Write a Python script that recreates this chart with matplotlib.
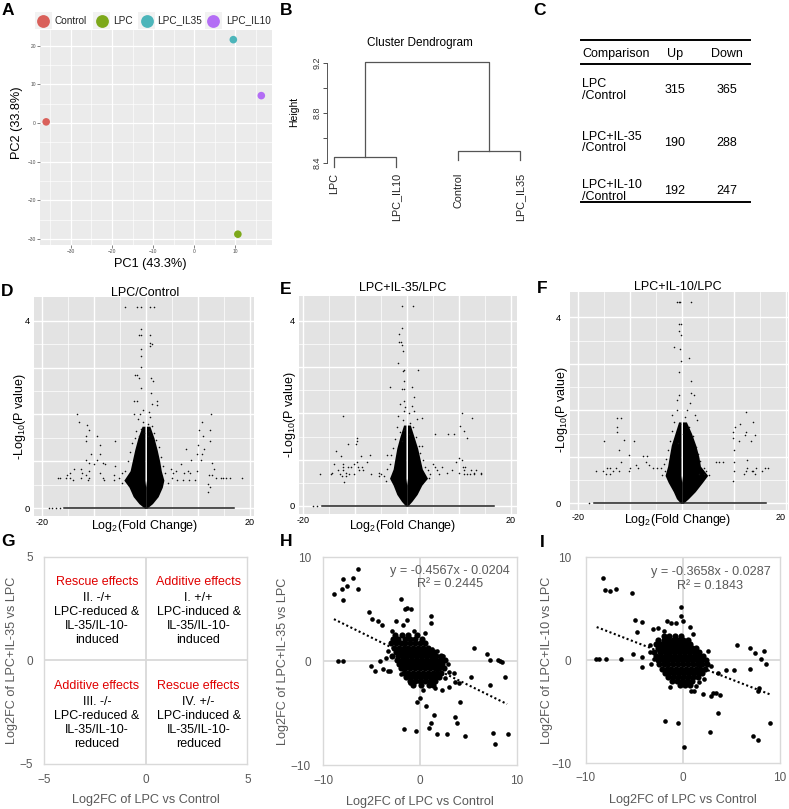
import matplotlib
matplotlib.use('Agg')
import matplotlib.pyplot as plt
from matplotlib.patches import Rectangle

plt.rcParams['font.family'] = ['Liberation Sans', 'DejaVu Sans']
plt.rcParams['mathtext.default'] = 'regular'

# ---------------- data ----------------
# A: PCA
pca_groups = ['Control', 'LPC', 'LPC_IL35', 'LPC_IL10']
pca_pc1 = [-36.0, 10.6, 9.5, 16.3]
pca_pc2 = [0.3, -28.8, 21.6, 7.1]
pca_colors = ['#D9605A', '#7DA81A', '#4CB5BA', '#B36DF5']

# B: dendrogram
dend_leaves = ['LPC', 'LPC_IL10', 'Control', 'LPC_IL35']
dend_merge = [8.443, 8.496, 9.21]
dend_leaf_bottom = [8.366, 8.366, 8.419, 8.419]

# C: DEG table
cmp_names = ['LPC\n/Control', 'LPC+IL-35\n/Control', 'LPC+IL-10\n/Control']
cmp_up = [315, 190, 192]
cmp_down = [365, 288, 247]

# D/E/F volcano plots: dense core outline + scattered genes
core_y = [0.0, 0.1, 0.25, 0.45, 0.6, 0.8, 1.0, 1.25, 1.5, 1.75]
core_gap = [0.0, 0.0, 0.0, 0.0, 0.15, 0.15, 0.15, 0.15, 0.15, 0.15]
d_core_l = [-0.2, -1.3, -2.4, -3.2, -4.2, -3.0, -2.6, -2.1, -1.5, -0.7]
d_core_r = [0.2, 1.3, 2.4, 3.2, 3.5, 3.0, 2.7, 2.2, 1.6, 0.8]
d_pts = [(-4.0, 4.30), (-1.6, 4.30), (-0.97, 4.30), (0.83, 4.30), (1.6, 4.30),
         (-0.97, 3.83), (-1.22, 3.70), (-0.85, 3.70), (0.83, 3.70), (0.83, 3.53),
         (1.28, 3.50), (0.83, 3.46), (-0.97, 3.39), (-0.97, 3.25), (-0.97, 3.01),
         (-2.12, 2.85), (-1.6, 2.85), (-1.29, 2.78), (0.96, 2.78), (1.34, 2.71),
         (-0.85, 2.57), (1.09, 2.46), (-2.24, 2.29), (-1.6, 2.29), (2.12, 2.29),
         (1.28, 2.22), (2.1, 2.2), (-0.6, 2.1), (-1.1, 2.0), (0.6, 2.05), (0.9, 1.95),
         (-1.4, 1.9), (-0.5, 1.85), (0.4, 1.8), (1.2, 1.75), (-0.9, 1.7), (-1.8, 1.65),
         (0.7, 1.65), (1.6, 1.6), (-0.4, 1.6), (-1.2, 1.55), (0.5, 1.55), (-2.0, 1.5),
         (1.9, 1.45), (-2.6, 1.4), (2.5, 1.3), (-3.0, 1.2), (2.9, 1.1), (-3.4, 1.0),
         (3.3, 0.9), (-3.9, 0.8), (3.8, 0.75), (4.3, 0.55), (-4.6, 0.55), (-2.3, 2.0),
         (-13.3, 2.02), (12.5, 2.02), (-12.8, 1.84), (10.9, 1.84), (-11.35, 1.77),
         (-10.9, 1.67), (12.3, 1.67), (10.3, 1.67), (-11.5, 1.54), (-9.3, 1.54),
         (11.1, 1.54), (-11.4, 1.44), (-5.97, 1.44), (12.4, 1.44), (-8.7, 1.36),
         (10.1, 1.36), (7.7, 1.27), (11.2, 1.27), (-10.6, 1.15), (-8.8, 1.15),
         (9.9, 1.15), (10.9, 1.15), (-11.5, 1.04), (-9.4, 1.04), (8.8, 1.04),
         (10.6, 1.04), (-10.9, 0.97), (-8.3, 0.97), (12.7, 0.97), (-9.9, 0.94),
         (-7.8, 0.94), (6.7, 0.94), (-5.97, 0.90), (-13.7, 0.83), (-12.5, 0.83),
         (4.8, 0.83), (13.1, 0.83), (-10.9, 0.79), (5.76, 0.79), (8.2, 0.79),
         (9.8, 0.79), (-14.6, 0.76), (-12.2, 0.76), (-8.7, 0.76), (-4.5, 0.76),
         (5.3, 0.76), (7.4, 0.76), (8.6, 0.76), (-15.1, 0.72), (-11.5, 0.72),
         (-6.1, 0.72), (12.2, 0.72), (12.8, 0.72), (-16.9, 0.65), (-16.4, 0.65),
         (-15.4, 0.65), (-14.6, 0.65), (-12.5, 0.65), (-10.9, 0.65), (-8.3, 0.65),
         (-5.1, 0.65), (5.1, 0.65), (13.5, 0.65), (14.4, 0.65), (14.9, 0.65),
         (15.4, 0.65), (16.3, 0.65), (18.6, 0.65), (12.0, 0.51), (12.3, 0.45),
         (12.0, 0.35), (-14.0, 0.61), (-11.0, 0.61), (-8.0, 0.6), (-6.0, 0.6),
         (6.0, 0.6), (7.2, 0.6), (8.4, 0.6), (9.5, 0.6)]
d_base = [-15.7, 17.0]
d_base_pts = [-18.6, -18.0, -17.3, -16.5]

e_core_l = [-0.2, -1.0, -1.9, -2.6, -3.3, -2.6, -2.3, -1.9, -1.3, -0.6]
e_core_r = [0.2, 1.0, 2.0, 2.9, 4.0, 3.0, 2.6, 2.1, 1.4, 0.7]
e_pts = [(-0.9, 4.33), (1.15, 4.33), (-0.97, 3.84), (-1.48, 3.71), (-1.48, 3.54),
         (-1.03, 3.54), (-0.84, 3.47), (-0.7, 3.36), (-1.6, 3.09), (2.18, 2.95),
         (-0.58, 2.95), (-0.7, 2.91), (-0.58, 2.70), (-3.2, 2.57), (0.96, 2.57),
         (-0.9, 2.53), (-0.58, 2.53), (1.35, 2.36), (-0.58, 2.28), (1.0, 2.16),
         (-0.58, 2.06), (1.45, 2.06), (10.55, 2.01), (-12.2, 1.94), (12.5, 1.91),
         (2.97, 1.91), (2.0, 1.89), (10.3, 1.73), (11.05, 1.63), (5.53, 1.55),
         (7.97, 1.55), (9.06, 1.55), (11.6, 1.47), (-9.6, 1.47), (-9.6, 1.40),
         (-11.3, 1.33), (-9.8, 1.33), (2.97, 1.30), (-13.5, 1.18), (-7.1, 1.11),
         (-3.85, 1.11), (-12.6, 1.08), (-8.8, 1.08), (10.0, 1.04), (10.6, 1.0),
         (-9.6, 0.96), (-7.7, 0.96), (9.4, 0.96), (-13.9, 0.91), (-12.2, 0.91),
         (-10.2, 0.91), (5.0, 0.91), (-12.2, 0.85), (-11.2, 0.85), (-10.8, 0.85),
         (-9.4, 0.85), (-8.6, 0.85), (5.4, 0.85), (6.8, 0.85), (10.8, 0.85),
         (11.2, 0.85), (-13.2, 0.78), (-12.3, 0.78), (-9.2, 0.78), (-8.4, 0.78),
         (4.0, 0.78), (5.9, 0.78), (8.8, 0.78), (11.0, 0.78), (12.3, 0.78),
         (13.3, 0.78), (-14.4, 0.72), (-11.6, 0.72), (-5.4, 0.72), (7.7, 0.72),
         (10.0, 0.72), (13.0, 0.72), (14.2, 0.72), (-16.6, 0.69), (-14.6, 0.69),
         (-12.9, 0.69), (-11.0, 0.69), (-10.2, 0.69), (-6.8, 0.69), (-4.9, 0.69),
         (4.5, 0.69), (6.2, 0.69), (11.0, 0.69), (11.6, 0.69), (12.1, 0.69),
         (13.0, 0.69), (14.3, 0.69), (-12.5, 0.65), (-11.6, 0.65), (-5.3, 0.65),
         (-4.3, 0.65), (-12.0, 0.51), (-1.2, 2.2), (-0.4, 2.15), (0.5, 2.0),
         (-1.6, 1.95), (-0.8, 1.85), (0.7, 1.8), (-1.9, 1.7), (1.3, 1.7),
         (-0.5, 1.65), (-1.3, 1.6), (0.4, 1.55), (1.8, 1.5), (-2.2, 1.45),
         (-0.9, 1.4), (2.3, 1.3), (-2.6, 1.25), (2.6, 1.15), (-3.0, 1.1),
         (3.2, 1.0), (-3.3, 0.9), (3.6, 0.85), (-3.7, 0.8), (4.3, 0.6), (-4.0, 0.55)]
e_base = [-16.3, 16.8]
e_base_pts = [-18.1, -17.2]

f_core_l = [-0.2, -1.0, -1.6, -2.6, -3.2, -2.7, -2.4, -2.0, -1.3, -0.6]
f_core_r = [0.3, 1.3, 2.6, 4.0, 5.0, 3.6, 3.3, 2.7, 1.9, 0.9]
f_pts = [(-0.83, 4.32), (-0.6, 4.32), (-0.4, 4.32), (1.7, 4.32), (-0.5, 3.85),
         (-0.19, 3.85), (-0.51, 3.70), (-0.19, 3.62), (-1.47, 3.37), (-0.38, 3.32),
         (1.4, 3.12), (-0.19, 3.05), (-0.45, 2.83), (1.86, 2.62), (1.86, 2.37),
         (-0.6, 2.33), (2.31, 2.33), (-0.83, 2.22), (1.5, 2.15), (1.0, 2.01),
         (12.4, 1.96), (-1.8, 1.90), (2.6, 1.90), (-12.4, 1.84), (-11.7, 1.84),
         (2.9, 1.79), (13.8, 1.74), (11.2, 1.70), (-12.4, 1.65), (10.3, 1.65),
         (-12.4, 1.53), (12.4, 1.53), (9.8, 1.53), (12.1, 1.47), (14.1, 1.47),
         (9.9, 1.41), (-11.1, 1.37), (-15.0, 1.33), (-9.2, 1.33), (11.1, 1.33),
         (13.4, 1.33), (-12.0, 1.15), (10.0, 1.15), (-10.1, 1.04), (-7.4, 1.01),
         (-6.6, 1.01), (12.6, 0.94), (-11.6, 0.89), (-6.9, 0.89), (6.5, 0.89),
         (7.2, 0.89), (7.9, 0.89), (10.0, 0.89), (-8.7, 0.83), (-6.3, 0.83),
         (-14.3, 0.76), (-13.8, 0.76), (-12.6, 0.76), (-10.0, 0.76), (-8.4, 0.76),
         (-5.5, 0.76), (-4.8, 0.76), (-3.9, 0.76), (12.6, 0.76), (14.2, 0.76),
         (16.0, 0.76), (16.5, 0.76), (-16.5, 0.69), (-15.2, 0.69), (-13.2, 0.69),
         (-12.0, 0.69), (-10.2, 0.69), (-3.2, 0.69), (4.6, 0.69), (10.0, 0.69),
         (12.3, 0.69), (13.5, 0.69), (13.8, 0.69), (15.4, 0.69), (-14.6, 0.62),
         (-13.7, 0.62), (3.3, 0.62), (4.3, 0.62), (11.9, 0.62), (14.0, 0.62),
         (9.8, 0.48), (-1.0, 2.0), (0.6, 1.85), (-1.4, 1.75), (-0.4, 1.7),
         (1.4, 1.65), (-1.8, 1.55), (0.3, 1.5), (2.2, 1.45), (-2.3, 1.35),
         (-0.8, 1.3), (2.7, 1.2), (-2.7, 1.15), (3.2, 1.05), (-3.0, 0.95),
         (3.6, 0.9), (-3.4, 0.85), (4.2, 0.75), (5.2, 0.6), (-3.8, 0.6)]
f_base = [-16.8, 16.3]
f_base_pts = [-17.8]

# G: quadrant scheme
quad_x = [-2.4, 2.6, -2.4, 2.6]
quad_title_y = [3.79, 3.79, -1.23, -1.23]
quad_body_y = [2.01, 2.01, -3.03, -3.03]
quad_titles = ['Rescue effects', 'Additive effects', 'Additive effects', 'Rescue effects']
quad_bodies = ['II. -/+\nLPC-reduced &\nIL-35/IL-10-\ninduced',
               'I. +/+\nLPC-induced &\nIL-35/IL-10-\ninduced',
               'III. -/-\nLPC-reduced &\nIL-35/IL-10-\nreduced',
               'IV. +/-\nLPC-induced &\nIL-35/IL-10-\nreduced']

# H: LPC vs Control (x) against LPC+IL-35 vs LPC (y)
h_fit = [-0.4567, -0.0204]
h_fit_x = [-8.9, 9.0]
h_pts = [(-6.45, 8.91), (-7.93, 7.88), (-6.93, 8.01), (-7.59, 7.24), (-8.10, 6.95),
         (-6.45, 6.95), (-8.93, 6.47), (-7.93, 5.86), (-2.0, 6.02), (-1.55, 5.0),
         (-1.31, 5.09), (-0.93, 5.0), (-5.28, 4.77), (-4.93, 4.03), (-4.31, 3.87),
         (-3.97, 3.48), (-2.48, 3.87), (-1.79, 3.48), (-1.38, 3.93), (1.17, 4.32),
         (1.17, 3.68), (-8.45, 0.02), (-7.93, 0.02), (-5.10, -0.47), (-4.14, 0.02),
         (-4.62, -0.91), (-3.86, -0.75), (-3.28, -0.91), (-3.1, -0.91), (5.59, 1.24),
         (6.90, 0.66), (7.24, 0.12), (8.03, 0.08), (8.31, 0.02), (8.48, -0.04),
         (8.79, -1.56), (7.24, -2.30), (5.31, -1.56), (3.55, -1.11), (3.62, -1.98),
         (4.03, -2.14), (2.59, -1.65), (2.97, -2.45), (2.28, -2.81), (4.10, -3.96),
         (3.59, -5.38), (3.79, -5.92), (1.48, -5.22), (1.10, -5.99), (0.97, -6.47),
         (1.79, -7.05), (2.79, -7.05), (4.62, -7.21), (7.59, -6.89), (7.76, -7.98),
         (9.10, -7.05), (-1.62, -6.57), (-0.45, -6.73), (-0.34, -3.96), (0.0, -3.52),
         (0.62, -4.29), (-1.03, -2.14), (-2.0, -1.27), (-3.3, 1.0), (-2.9, 2.9),
         (0.5, 2.7), (1.2, 1.2), (1.8, 1.0), (2.9, -0.3), (3.0, -1.0), (-3.5, 0.3),
         (0.3, -2.8), (1.6, -2.6), (-0.6, 2.9), (2.4, 0.5)]
h_core_y = [2.5, 2.1, 1.7, 1.3, 0.9, 0.5, 0.1, -0.3, -0.7, -1.1, -1.5, -1.9, -2.3]
h_core_x = [[-2.6, -1.9, -1.2, -0.3],
            [-2.8, -2.3, -1.6, -1.0, -0.5, 0.2],
            [-3.0, -2.5, -2.0, -1.5, -1.0, -0.5, 0.0, 0.5],
            [-2.7, -2.2, -1.7, -1.2, -0.7, -0.2, 0.3, 0.8],
            [-2.5, -2.0, -1.5, -1.0, -0.5, 0.0, 0.5, 1.0, 1.4],
            [-2.9, -2.3, -1.8, -1.3, -0.8, -0.3, 0.2, 0.7, 1.2, 1.7, 2.2],
            [-2.4, -1.9, -1.4, -0.9, -0.4, 0.1, 0.6, 1.1, 1.6, 2.1, 2.6],
            [-2.2, -1.7, -1.2, -0.7, -0.2, 0.3, 0.8, 1.3, 1.8, 2.3],
            [-2.0, -1.5, -1.0, -0.5, 0.0, 0.5, 1.0, 1.5, 2.0, 2.5],
            [-1.7, -1.2, -0.7, -0.2, 0.3, 0.8, 1.3, 1.8, 2.2],
            [-1.4, -0.9, -0.4, 0.1, 0.6, 1.1, 1.6, 2.0],
            [-1.0, -0.5, 0.0, 0.5, 1.0, 1.5],
            [-0.7, 0.1, 0.9, 1.3]]

# I: LPC vs Control (x) against LPC+IL-10 vs LPC (y)
i_fit = [-0.3658, -0.0287]
i_fit_x = [-8.9, 9.1]
i_pts = [(-8.25, 8.03), (-8.08, 6.83), (-7.56, 6.76), (-6.94, 6.93), (-5.29, 6.50),
         (-0.21, 5.21), (-0.21, 4.30), (-4.95, 3.88), (-4.26, 3.69), (-4.78, 2.75),
         (-3.09, 3.07), (-2.54, 3.14), (-1.62, 3.82), (-1.20, 3.66), (-0.76, 3.59),
         (0.72, 3.24), (0.0, 3.82), (-8.93, 0.13), (-8.66, 0.13), (-7.90, 0.13),
         (-6.43, 0.13), (-5.12, 0.61), (-4.19, 0.32), (-4.19, -0.65), (-3.44, 0.84),
         (-3.0, 0.13), (5.57, 1.52), (6.87, 1.20), (7.39, 0.74), (8.40, 0.87),
         (8.04, 0.10), (8.52, -0.36), (6.94, -0.84), (5.26, -0.91), (4.47, -0.97),
         (3.57, -1.26), (2.17, -1.81), (1.68, -2.07), (1.38, -2.46), (1.10, -2.98),
         (2.06, -3.30), (2.92, -3.43), (3.13, -3.20), (3.40, -3.17), (3.81, -3.37),
         (3.57, -5.15), (2.78, -6.96), (7.84, -2.72), (7.70, -2.94), (8.97, -6.05),
         (7.18, -7.31), (7.70, -7.77), (-1.82, -5.86), (-0.52, -6.05), (0.10, -8.41),
         (0.17, -2.17), (-0.34, -2.43), (-3.4, 1.5), (-2.0, 2.8), (1.0, 2.6),
         (2.6, 0.9), (2.9, -0.6), (-3.3, -0.4), (-1.3, -2.6), (0.8, -3.0)]
i_core_y = [2.4, 2.0, 1.6, 1.2, 0.8, 0.4, 0.0, -0.4, -0.8, -1.2, -1.6, -2.0, -2.4]
i_core_x = [[-2.0, -1.4, -0.8, -0.2],
            [-2.6, -2.0, -1.5, -1.0, -0.5, 0.0, 0.5],
            [-2.8, -2.3, -1.8, -1.3, -0.8, -0.3, 0.2, 0.7],
            [-2.6, -2.1, -1.6, -1.1, -0.6, -0.1, 0.4, 0.9, 1.3],
            [-3.0, -2.4, -1.9, -1.4, -0.9, -0.4, 0.1, 0.6, 1.1, 1.6],
            [-2.8, -2.3, -1.8, -1.3, -0.8, -0.3, 0.2, 0.7, 1.2, 1.7, 2.1],
            [-2.6, -2.1, -1.6, -1.1, -0.6, -0.1, 0.4, 0.9, 1.4, 1.9, 2.4],
            [-2.5, -2.0, -1.5, -1.0, -0.5, 0.0, 0.5, 1.0, 1.5, 2.0, 2.5],
            [-2.2, -1.7, -1.2, -0.7, -0.2, 0.3, 0.8, 1.3, 1.8, 2.3],
            [-1.9, -1.4, -0.9, -0.4, 0.1, 0.6, 1.1, 1.6, 2.0],
            [-1.5, -1.0, -0.5, 0.0, 0.5, 1.0, 1.5],
            [-1.1, -0.6, -0.1, 0.4, 0.9],
            [-0.3, 0.2, 0.7]]

# ---------------- figure ----------------
W, H = 789, 809
fig = plt.figure(figsize=(W / 100, H / 100), dpi=100)


def box(l, t, r, b):
    return fig.add_axes([l / W, 1 - b / H, (r - l) / W, (b - t) / H])


# A: PCA
axA = box(40, 30, 272, 245)
axA.set_facecolor('#EBEBEB')
axA.scatter(pca_pc1, pca_pc2, s=30, c=pca_colors, linewidths=0, zorder=3)
axA.set_xlim(-37.5, 18.9)
axA.set_ylim(-31.6, 24.1)
axA.set_xticks(range(-30, 11, 10))
axA.set_yticks(range(-30, 21, 10))
axA.set_xticks([-35, -25, -15, -5, 5, 15], minor=True)
axA.set_yticks([-25, -15, -5, 5, 15], minor=True)
axA.grid(which='major', color='white', lw=0.9)
axA.grid(which='minor', color='white', lw=0.45)
axA.set_axisbelow(True)
for s in axA.spines.values():
    s.set_visible(False)
axA.tick_params(labelsize=3.5, colors='#4D4D4D', length=2, width=0.5, pad=1)
axA.tick_params(which='minor', length=0)

# B: dendrogram
axB = box(326.7, 55, 540, 170)
leaf_pos = [1, 2, 3, 4]
axB.plot([leaf_pos[0], leaf_pos[0], leaf_pos[1], leaf_pos[1]],
         [dend_leaf_bottom[0], dend_merge[0], dend_merge[0], dend_leaf_bottom[1]],
         color='#555555', lw=0.9)
axB.plot([leaf_pos[2], leaf_pos[2], leaf_pos[3], leaf_pos[3]],
         [dend_leaf_bottom[2], dend_merge[1], dend_merge[1], dend_leaf_bottom[3]],
         color='#555555', lw=0.9)
mid_l = (leaf_pos[0] + leaf_pos[1]) / 2
mid_r = (leaf_pos[2] + leaf_pos[3]) / 2
axB.plot([mid_l, mid_l, mid_r, mid_r],
         [dend_merge[0], dend_merge[2], dend_merge[2], dend_merge[1]],
         color='#555555', lw=0.9)
axB.set_xlim(0.882, 4.32)
axB.set_ylim(8.342, 9.262)
for k in ['top', 'right', 'bottom']:
    axB.spines[k].set_visible(False)
axB.spines['left'].set_bounds(8.4, 9.2)
axB.spines['left'].set_color('#555555')
axB.spines['left'].set_linewidth(0.7)
axB.set_xticks([])
axB.set_yticks([8.4, 8.6, 8.8, 9.0, 9.2])
axB.set_yticklabels(['8.4', '', '8.8', '', '9.2'], rotation=90, va='center')
axB.tick_params(axis='y', labelsize=6.5, length=3, width=0.6, colors='#333333', pad=1)
axB.patch.set_alpha(0)
for p, name in zip(leaf_pos, dend_leaves):
    axB.text(p, 8.318, name, rotation=90, ha='center', va='top', fontsize=7.8,
             color='#222222')


# D/E/F volcano plots
def volcano(bx, xlim, ylim, core_l, core_r, pts, base, base_pts, ypad, xpad):
    ax = box(*bx)
    ax.set_facecolor('#E3E3E3')
    ax.set_xlim(*xlim)
    ax.set_ylim(*ylim)
    ax.set_xticks([-20, -10, 0, 10, 20])
    ax.set_xticklabels(['-20', '', '', '', '20'])
    ax.set_xticks([-15, -5, 5, 15], minor=True)
    ax.set_yticks([0, 1, 2, 3, 4])
    ax.set_yticklabels(['0', '', '', '', '4'])
    ax.set_yticks([0.5, 1.5, 2.5, 3.5], minor=True)
    ax.grid(which='major', color='white', lw=1.0)
    ax.grid(which='minor', color='white', lw=0.5)
    ax.set_axisbelow(True)
    for s in ax.spines.values():
        s.set_visible(False)
    ax.tick_params(axis='y', length=0, labelsize=6.8, pad=ypad)
    ax.tick_params(axis='x', length=0, labelsize=6.5, pad=xpad)
    ax.tick_params(which='minor', length=0)
    neg_gap = [-g for g in core_gap]
    ax.fill_betweenx(core_y, core_l, neg_gap, color='black', lw=0, zorder=3)
    ax.fill_betweenx(core_y, core_gap, core_r, color='black', lw=0, zorder=3)
    ax.scatter([p[0] for p in pts], [p[1] for p in pts], s=1.3, c='#111111',
               linewidths=0, zorder=3)
    ax.plot(base, [0, 0], color='#222222', lw=1.1, zorder=3)
    ax.scatter(base_pts, [0] * len(base_pts), s=1.3, c='#111111', linewidths=0, zorder=3)
    return ax


volcano((34, 297, 254, 516), (-21.48, 20.83), (-0.164, 4.505),
        d_core_l, d_core_r, d_pts, d_base, d_base_pts, 3, 1.5)
volcano((299.3, 296, 516.7, 514.3), (-20.65, 21.15), (-0.18, 4.54),
        e_core_l, e_core_r, e_pts, e_base, e_base_pts, 3, 1.5)
axF = volcano((570, 291.7, 788, 510), (-21.48, 20.44), (-0.144, 4.55),
              f_core_l, f_core_r, f_pts, f_base, f_base_pts, 6.5, 2.5)
axF.get_xticklabels()[-1].set_horizontalalignment('right')


# G/H/I excel-like frames
def frame(ax, lim, ticks, ypad, xpad):
    ax.set_xlim(-lim, lim)
    ax.set_ylim(-lim, lim)
    for s in ax.spines.values():
        s.set_color('#D9D9D9')
        s.set_linewidth(1.0)
    ax.axhline(0, color='#D9D9D9', lw=1.3, zorder=1)
    ax.axvline(0, color='#D9D9D9', lw=1.3, zorder=1)
    ax.set_xticks(ticks)
    ax.set_yticks(ticks)
    ax.tick_params(axis='both', length=0, labelsize=8.5, colors='#595959')
    ax.tick_params(axis='y', pad=ypad)
    ax.tick_params(axis='x', pad=xpad)


axG = box(44, 556.7, 247.3, 764)
frame(axG, 5, [-5, 0, 5], 8.0, 7.0)
for qx, ty, by, tt, bt in zip(quad_x, quad_title_y, quad_body_y, quad_titles, quad_bodies):
    axG.text(qx, ty, tt, color='#E00000', fontsize=9, ha='center', va='center')
    axG.text(qx, by, bt, color='black', fontsize=9, ha='center', va='center',
             linespacing=1.22)

axH = box(323.3, 557.3, 516.7, 765)
frame(axH, 10, [-10, 0, 10], 9.0, 7.5)
axH.scatter([p[0] for p in h_pts], [p[1] for p in h_pts], s=11, c='black',
            linewidths=0, zorder=3)
axH.scatter([x for row in h_core_x for x in row],
            [y for y, row in zip(h_core_y, h_core_x) for _ in row],
            s=20, c='black', linewidths=0, zorder=3)
axH.plot(h_fit_x, [h_fit[0] * x + h_fit[1] for x in h_fit_x], color='black',
         lw=1.5, ls=(0, (1, 1.2)), zorder=2)

axI = box(586, 557.3, 780, 763.3)
frame(axI, 10, [-10, 0, 10], 10.5, 6.0)
axI.scatter([p[0] for p in i_pts], [p[1] for p in i_pts], s=11, c='black',
            linewidths=0, zorder=3)
axI.scatter([x for row in i_core_x for x in row],
            [y for y, row in zip(i_core_y, i_core_x) for _ in row],
            s=20, c='black', linewidths=0, zorder=3)
axI.plot(i_fit_x, [i_fit[0] * x + i_fit[1] for x in i_fit_x], color='black',
         lw=1.5, ls=(0, (1, 1.2)), zorder=2)

# ---------------- overlay: labels, legend, table ----------------
ann = fig.add_axes([0, 0, 1, 1])
ann.set_xlim(0, W)
ann.set_ylim(H, 0)
ann.axis('off')

for letter, lx, ly in [('A', 8, 10), ('B', 286, 10), ('C', 540, 10),
                       ('D', 7.5, 291), ('E', 285.5, 289.5), ('F', 542, 288.5),
                       ('G', 8.5, 541.5), ('H', 286, 541.5), ('I', 542, 542.5)]:
    ann.text(lx, ly, letter, fontsize=12.5, fontweight='bold', ha='center', va='center')

# A legend and labels
key_x = [43.5, 101.7, 146.7, 213.3]
txt_x = [55, 113.3, 156.7, 226]
for kx, tx, g, c in zip(key_x, txt_x, pca_groups, pca_colors):
    ann.add_patch(Rectangle((kx - 8.5, 12), 17, 17, color='#F2F2F2', lw=0))
    ann.scatter([kx], [20.5], s=85, c=c, linewidths=0)
    ann.text(tx, 20.5, g, fontsize=7.2, va='center', ha='left', color='#222222')
ann.text(17, 123, 'PC2 (33.8%)', rotation=90, fontsize=9.2, ha='center', va='center')
ann.text(150, 264.5, 'PC1 (43.3%)', fontsize=9.2, ha='center', va='center')

# B labels
ann.text(420, 42.7, 'Cluster Dendrogram', fontsize=8.5, ha='center', va='center')
ann.text(294, 112, 'Height', rotation=90, fontsize=7.5, ha='center', va='center')

# C table
ann.plot([580.7, 750], [40, 40], color='black', lw=1.4)
ann.plot([580.7, 750], [64.3, 64.3], color='black', lw=1.4)
ann.plot([580.7, 750], [202.3, 202.3], color='black', lw=1.4)
ann.text(582, 54, 'Comparison', fontsize=9, va='center', ha='left')
ann.text(675, 54, 'Up', fontsize=9, va='center', ha='center')
ann.text(726.7, 54, 'Down', fontsize=9, va='center', ha='center')
for ry, nm, u, d in zip([90, 142.7, 191], cmp_names, cmp_up, cmp_down):
    ann.text(582, ry, nm, fontsize=9, va='center', ha='left', linespacing=0.95)
    ann.text(675, ry, str(u), fontsize=9, va='center', ha='center')
    ann.text(726.7, ry, str(d), fontsize=9, va='center', ha='center')

# D/E/F titles and axis labels
for cx, ty, tt, ylx, yly, xly in [(145, 293, 'LPC/Control', 20, 417, 526),
                                 (403, 288, 'LPC+IL-35/LPC', 290, 415, 526),
                                 (678, 286.7, 'LPC+IL-10/LPC', 561.7, 410, 520)]:
    ann.text(cx, ty, tt, fontsize=9, ha='center', va='center')
    ann.text(ylx, yly, '-Log$_{10}$(P value)', rotation=90, fontsize=9,
             ha='center', va='center')
    ann.text(cx, xly, 'Log$_2$(Fold Change)', fontsize=9, ha='center', va='center')

# G/H/I axis labels
gray = '#595959'
for cx, xly, ylx, yly, ylab in [(146, 800, 12, 660, 'Log2FC of LPC+IL-35 vs LPC'),
                                (420, 801.7, 283, 661.7, 'Log2FC of LPC+IL-35 vs LPC'),
                                (683, 800, 546.7, 660, 'Log2FC of LPC+IL-10 vs LPC')]:
    ann.text(cx, xly, 'Log2FC of LPC vs Control', fontsize=9.1, color=gray,
             ha='center', va='center')
    ann.text(ylx, yly, ylab, rotation=90, fontsize=9.1, color=gray,
             ha='center', va='center')

ann.text(450, 577.5, 'y = -0.4567x - 0.0204\nR² = 0.2445', fontsize=9.1, color=gray,
         ha='center', va='center', multialignment='center', linespacing=1.15)
ann.text(710.5, 579, 'y = -0.3658x - 0.0287\nR² = 0.1843', fontsize=9.1, color=gray,
         ha='center', va='center', multialignment='center', linespacing=1.15)

fig.savefig('out.png', dpi=100)
